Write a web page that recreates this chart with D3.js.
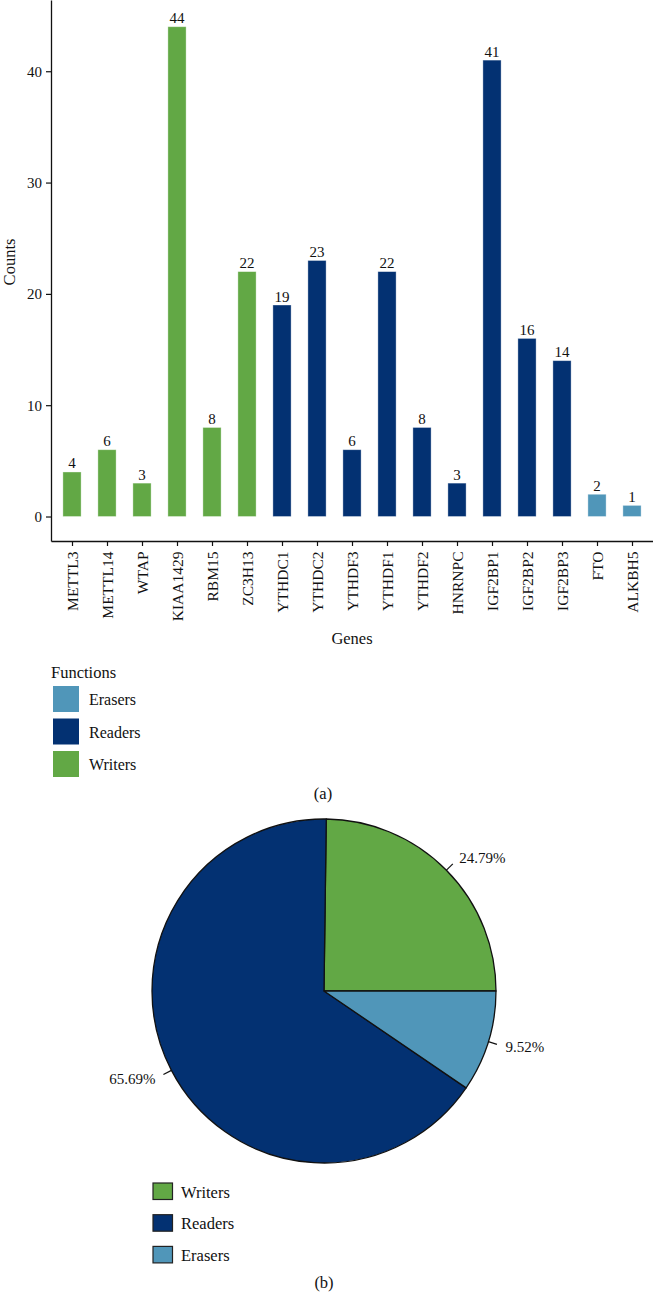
<!DOCTYPE html>
<html>
<head>
<meta charset="utf-8">
<script src="https://cdn.jsdelivr.net/npm/d3@7"></script>
<style>
  body { margin: 0; background: #fff; }
  svg text { font-family: "Liberation Serif", "DejaVu Serif", serif; fill: #111; }
</style>
</head>
<body>
<svg id="chart" width="653" height="1295"></svg>
<script>
// bar chart data
const genes = ["METTL3", "METTL14", "WTAP", "KIAA1429", "RBM15", "ZC3H13",
  "YTHDC1", "YTHDC2", "YTHDF3", "YTHDF1", "YTHDF2", "HNRNPC",
  "IGF2BP1", "IGF2BP2", "IGF2BP3", "FTO", "ALKBH5"];
const counts = [4, 6, 3, 44, 8, 22, 19, 23, 6, 22, 8, 3, 41, 16, 14, 2, 1];
const geneFunction = ["Writers", "Writers", "Writers", "Writers", "Writers", "Writers",
  "Readers", "Readers", "Readers", "Readers", "Readers", "Readers",
  "Readers", "Readers", "Readers", "Erasers", "Erasers"];
const yTicks = [0, 10, 20, 30, 40];

// legend (a)
const legendA = ["Erasers", "Readers", "Writers"];

// pie data (percent)
const pieLabels = ["Writers", "Readers", "Erasers"];
const pieShares = [24.79, 65.69, 9.52];

const colors = { Writers: "#62a845", Readers: "#033172", Erasers: "#5096b9" };

const svg = d3.select("#chart");

// ---------- (a) bar chart ----------
const plot = { left: 51, right: 653, top: 0, bottom: 541 };

const x = d3.scalePoint()
  .domain(genes)
  .range([plot.left, plot.right])
  .padding(0.6);

const y = d3.scaleLinear()
  .domain([-2.2, 46.4])
  .range([plot.bottom, plot.top]);

const barW = x.step() * 0.52;
const bars = genes.map((g, i) => ({ gene: g, value: counts[i], fn: geneFunction[i] }));

svg.append("g")
  .selectAll("rect")
  .data(bars)
  .join("rect")
  .attr("x", (d) => x(d.gene) - barW / 2)
  .attr("y", (d) => y(d.value))
  .attr("width", barW)
  .attr("height", (d) => y(0) - y(d.value))
  .attr("fill", (d) => colors[d.fn])
  .attr("stroke", "#ffffff")
  .attr("stroke-opacity", 0.45)
  .attr("stroke-width", 0.8);

svg.append("g")
  .selectAll("text")
  .data(bars)
  .join("text")
  .attr("x", (d) => x(d.gene))
  .attr("y", (d) => y(d.value) - 3.5)
  .attr("text-anchor", "middle")
  .style("font-size", "15px")
  .text((d) => d.value);

const yAxisG = svg.append("g")
  .attr("transform", `translate(${plot.left},0)`)
  .call(d3.axisLeft(y).tickValues(yTicks).tickSize(5).tickSizeOuter(0).tickPadding(4));

const xAxisG = svg.append("g")
  .attr("transform", `translate(0,${plot.bottom})`)
  .call(d3.axisBottom(x).tickSize(5).tickSizeOuter(0));

[yAxisG, xAxisG].forEach((g) => {
  g.select(".domain").attr("stroke", "#111").attr("stroke-width", 1.3);
  g.selectAll(".tick line").attr("stroke", "#111").attr("stroke-width", 1.2);
  g.selectAll(".tick text").attr("fill", "#111").style("font-size", "15px")
    .style("font-family", "'Liberation Serif', 'DejaVu Serif', serif");
});

xAxisG.selectAll(".tick text")
  .attr("transform", "rotate(-90)")
  .attr("text-anchor", "end")
  .attr("x", -10.5)
  .attr("y", 0)
  .attr("dy", "0.35em")
  .style("font-size", "15.5px");

svg.append("text")
  .attr("x", (plot.left + plot.right) / 2)
  .attr("y", 644)
  .attr("text-anchor", "middle")
  .style("font-size", "16.5px")
  .text("Genes");

svg.append("text")
  .attr("transform", "translate(15,262) rotate(-90)")
  .attr("text-anchor", "middle")
  .style("font-size", "16.5px")
  .text("Counts");

// legend (a)
const legA = svg.append("g").attr("transform", "translate(51,0)");
legA.append("text")
  .attr("x", 0)
  .attr("y", 678)
  .style("font-size", "16.5px")
  .text("Functions");
legA.selectAll("rect")
  .data(legendA)
  .join("rect")
  .attr("x", 2)
  .attr("y", (d, i) => 686 + i * 32.5)
  .attr("width", 26)
  .attr("height", 26)
  .attr("fill", (d) => colors[d]);
legA.selectAll("text.lab")
  .data(legendA)
  .join("text")
  .attr("class", "lab")
  .attr("x", 38)
  .attr("y", (d, i) => 686 + i * 32.5 + 19)
  .style("font-size", "16px")
  .text((d) => d);

svg.append("text")
  .attr("x", 323)
  .attr("y", 799)
  .attr("text-anchor", "middle")
  .style("font-size", "16.5px")
  .text("(a)");

// ---------- (b) pie chart ----------
const cx = 324, cy = 991, R = 172;
const pieData = pieLabels.map((l, i) => ({ label: l, value: pieShares[i] }));

const pie = d3.pie()
  .sort(null)
  .value((d) => d.value)
  .startAngle(Math.PI / 2)
  .endAngle(Math.PI / 2 - 2 * Math.PI);

const arcs = pie(pieData);
const arc = d3.arc().innerRadius(0).outerRadius(R);

const pieG = svg.append("g").attr("transform", `translate(${cx},${cy})`);

pieG.selectAll("path")
  .data(arcs)
  .join("path")
  .attr("d", arc)
  .attr("fill", (d) => colors[d.data.label])
  .attr("stroke", "#111")
  .attr("stroke-width", 1.3)
  .attr("stroke-linejoin", "round");

const polar = (a, r) => [Math.sin(a) * r, -Math.cos(a) * r];

pieG.selectAll("line.leader")
  .data(arcs)
  .join("line")
  .attr("class", "leader")
  .each(function (d) {
    const a = (d.startAngle + d.endAngle) / 2;
    const [x1, y1] = polar(a, R);
    const [x2, y2] = polar(a, R + 9);
    d3.select(this).attr("x1", x1).attr("y1", y1).attr("x2", x2).attr("y2", y2);
  })
  .attr("stroke", "#111")
  .attr("stroke-width", 1.2);

pieG.selectAll("text.pct")
  .data(arcs)
  .join("text")
  .attr("class", "pct")
  .each(function (d) {
    const a = (d.startAngle + d.endAngle) / 2;
    const [tx, ty] = polar(a, R + 18);
    d3.select(this)
      .attr("x", tx)
      .attr("y", ty)
      .attr("text-anchor", Math.sin(a) >= 0 ? "start" : "end");
  })
  .attr("dy", "0.35em")
  .style("font-size", "15px")
  .text((d) => d.data.value.toFixed(2) + "%");

// legend (b)
const legB = svg.append("g");
legB.selectAll("rect")
  .data(pieLabels)
  .join("rect")
  .attr("x", 153)
  .attr("y", (d, i) => 1183 + i * 31.7)
  .attr("width", 19.5)
  .attr("height", 16.5)
  .attr("fill", (d) => colors[d])
  .attr("stroke", "#222")
  .attr("stroke-width", 1.2);
legB.selectAll("text")
  .data(pieLabels)
  .join("text")
  .attr("x", 181)
  .attr("y", (d, i) => 1183 + i * 31.7 + 14.5)
  .style("font-size", "16.5px")
  .text((d) => d);

svg.append("text")
  .attr("x", 324)
  .attr("y", 1288)
  .attr("text-anchor", "middle")
  .style("font-size", "16.5px")
  .text("(b)");
</script>
</body>
</html>
